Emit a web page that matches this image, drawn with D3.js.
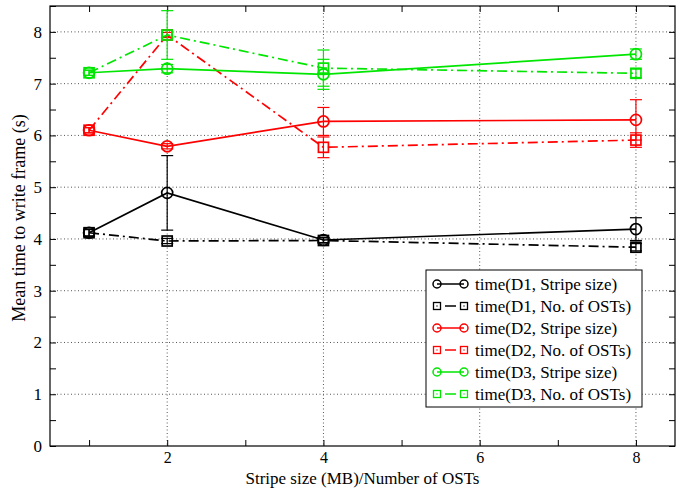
<!DOCTYPE html>
<html>
<head>
  <meta charset="utf-8">
  <title>Mean time to write frame</title>
  <script src="https://d3js.org/d3.v7.min.js"></script>
  <style>
    body { margin: 0; background: #fff; }
    svg text { font-family: "Liberation Serif", "DejaVu Serif", serif; fill: #000; }
    .grid line { stroke: #555; stroke-width: 1; stroke-dasharray: 1,2.5; }
  </style>
</head>
<body>
  <svg width="684" height="488"></svg>

  <script>
    // x positions shared by all series
    const xValues = [1, 2, 4, 8];

    // series values and error half-widths (seconds)
    const d1Stripe = [4.12, 4.89, 3.98, 4.19];
    const d1StripeErr = [0.07, 0.72, 0.05, 0.22];
    const d1Osts = [4.12, 3.96, 3.97, 3.84];
    const d1OstsErr = [0.06, 0.05, 0.05, 0.07];
    const d2Stripe = [6.10, 5.79, 6.27, 6.30];
    const d2StripeErr = [0.05, 0.05, 0.27, 0.39];
    const d2Osts = [6.10, 7.94, 5.77, 5.91];
    const d2OstsErr = [0.05, 0.05, 0.20, 0.14];
    const d3Stripe = [7.21, 7.29, 7.18, 7.57];
    const d3StripeErr = [0.05, 0.08, 0.29, 0.10];
    const d3Osts = [7.21, 7.94, 7.30, 7.20];
    const d3OstsErr = [0.05, 0.47, 0.35, 0.08];

    const seriesNames = [
      "time(D1, Stripe size)", "time(D1, No. of OSTs)",
      "time(D2, Stripe size)", "time(D2, No. of OSTs)",
      "time(D3, Stripe size)", "time(D3, No. of OSTs)"
    ];
    const xTickLabels = [2, 4, 6, 8];
    const yTickLabels = [0, 1, 2, 3, 4, 5, 6, 7, 8];

    const series = [
      { name: seriesNames[0], values: d1Stripe, err: d1StripeErr, color: "#000", kind: "stripe" },
      { name: seriesNames[1], values: d1Osts, err: d1OstsErr, color: "#000", kind: "osts" },
      { name: seriesNames[2], values: d2Stripe, err: d2StripeErr, color: "#ff0000", kind: "stripe" },
      { name: seriesNames[3], values: d2Osts, err: d2OstsErr, color: "#ff0000", kind: "osts" },
      { name: seriesNames[4], values: d3Stripe, err: d3StripeErr, color: "#00e600", kind: "stripe" },
      { name: seriesNames[5], values: d3Osts, err: d3OstsErr, color: "#00e600", kind: "osts" }
    ];

    const serif = "Liberation Serif, DejaVu Serif, serif";
    const svg = d3.select("svg");
    const plotL = 50, plotR = 675, plotT = 6, plotB = 446;

    const x = d3.scaleLinear().domain([0.5, 8.5]).range([plotL, plotR]);
    const y = d3.scaleLinear().domain([0, 8.5]).range([plotB, plotT]);

    // dotted grid
    const grid = svg.append("g").attr("class", "grid");
    grid.selectAll("line.gx").data(xTickLabels).join("line")
      .attr("x1", d => x(d)).attr("x2", d => x(d))
      .attr("y1", plotT).attr("y2", plotB);
    grid.selectAll("line.gy").data(yTickLabels.filter(d => d > 0)).join("line")
      .attr("class", "gy")
      .attr("x1", plotL).attr("x2", plotR)
      .attr("y1", d => y(d)).attr("y2", d => y(d));

    // axes: ticks point inward on all four sides
    const xMinor = d3.range(1, 9);
    const yMinor = d3.range(0, 8.51, 0.5);
    const tickLen = 6;

    function styleAxis(g) {
      g.select(".domain").remove();
      g.attr("font-family", serif).attr("font-size", 17);
      g.selectAll("text").attr("font-family", serif).attr("font-size", 17);
    }

    svg.append("g").attr("transform", `translate(0,${plotB})`)
      .call(d3.axisBottom(x).tickValues(xMinor).tickSize(-tickLen).tickPadding(6)
        .tickFormat(d => xTickLabels.includes(d) ? d : ""))
      .call(styleAxis)
      .call(g => g.selectAll("text").attr("font-size", 16));
    svg.append("g").attr("transform", `translate(0,${plotT})`)
      .call(d3.axisTop(x).tickValues(xMinor).tickSize(-tickLen).tickFormat(""))
      .call(styleAxis);
    svg.append("g").attr("transform", `translate(${plotL},0)`)
      .call(d3.axisLeft(y).tickValues(yMinor).tickSize(-tickLen).tickPadding(8)
        .tickFormat(d => Number.isInteger(d) ? d : ""))
      .call(styleAxis);
    svg.append("g").attr("transform", `translate(${plotR},0)`)
      .call(d3.axisRight(y).tickValues(yMinor).tickSize(-tickLen).tickFormat(""))
      .call(styleAxis);

    svg.append("rect")
      .attr("x", plotL).attr("y", plotT)
      .attr("width", plotR - plotL).attr("height", plotB - plotT)
      .attr("fill", "none").attr("stroke", "#000").attr("stroke-width", 1.2);

    // axis titles
    svg.append("text")
      .attr("x", (plotL + plotR) / 2).attr("y", 484)
      .attr("text-anchor", "middle").attr("font-size", 17)
      .text("Stripe size (MB)/Number of OSTs");
    svg.append("text")
      .attr("transform", `translate(25,218) rotate(-90)`)
      .attr("text-anchor", "middle").attr("font-size", 18)
      .text("Mean time to write frame (s)");

    const dashOsts = "10,4,2,4";
    const line = d3.line().x(d => x(d[0])).y(d => y(d[1]));

    // draw each series: line, error bars, markers
    series.forEach(s => {
      const pts = xValues.map((xv, i) => [xv, s.values[i], s.err[i]]);
      const g = svg.append("g")
        .attr("stroke", s.color).attr("fill", "none").attr("stroke-width", 1.7);

      g.append("path").attr("d", line(pts))
        .attr("stroke-dasharray", s.kind === "osts" ? dashOsts : null);

      const eb = g.selectAll("g.err").data(pts).join("g").attr("stroke-width", 1.2);
      eb.append("line")
        .attr("x1", d => x(d[0])).attr("x2", d => x(d[0]))
        .attr("y1", d => y(d[1] - d[2])).attr("y2", d => y(d[1] + d[2]));
      eb.append("line")
        .attr("x1", d => x(d[0]) - 6).attr("x2", d => x(d[0]) + 6)
        .attr("y1", d => y(d[1] + d[2])).attr("y2", d => y(d[1] + d[2]));
      eb.append("line")
        .attr("x1", d => x(d[0]) - 6).attr("x2", d => x(d[0]) + 6)
        .attr("y1", d => y(d[1] - d[2])).attr("y2", d => y(d[1] - d[2]));

      if (s.kind === "stripe") {
        g.selectAll("circle.m").data(pts).join("circle")
          .attr("cx", d => x(d[0])).attr("cy", d => y(d[1])).attr("r", 5.5);
      } else {
        g.selectAll("rect.m").data(pts).join("rect")
          .attr("x", d => x(d[0]) - 5).attr("y", d => y(d[1]) - 5)
          .attr("width", 10).attr("height", 10);
      }
    });

    // legend
    const lg = svg.append("g").attr("transform", "translate(426,270)");
    lg.append("rect").attr("width", 216).attr("height", 137)
      .attr("fill", "#fff").attr("stroke", "#000").attr("stroke-width", 1);

    series.forEach((s, i) => {
      const row = lg.append("g").attr("transform", `translate(0,${14 + i * 22})`)
        .attr("stroke", s.color).attr("fill", "none").attr("stroke-width", 1.5);
      if (s.kind === "stripe") {
        row.append("line").attr("x1", 11).attr("x2", 38).attr("y1", 0).attr("y2", 0);
        row.append("circle").attr("cx", 11).attr("cy", 0).attr("r", 4);
        row.append("circle").attr("cx", 38).attr("cy", 0).attr("r", 4);
      } else {
        row.append("line").attr("x1", 19).attr("x2", 30).attr("y1", 0).attr("y2", 0);
        [11, 38].forEach(cx => {
          row.append("rect").attr("x", cx - 3.5).attr("y", -3.5)
            .attr("width", 7).attr("height", 7).attr("stroke-width", 1.3);
          row.append("rect").attr("x", cx - 0.6).attr("y", -0.6)
            .attr("width", 1.2).attr("height", 1.2).attr("fill", s.color).attr("stroke", "none");
        });
      }
      lg.append("text").attr("x", 49).attr("y", 14 + i * 22 + 6)
        .attr("font-size", 17).text(s.name);
    });
  </script>
</body>
</html>
